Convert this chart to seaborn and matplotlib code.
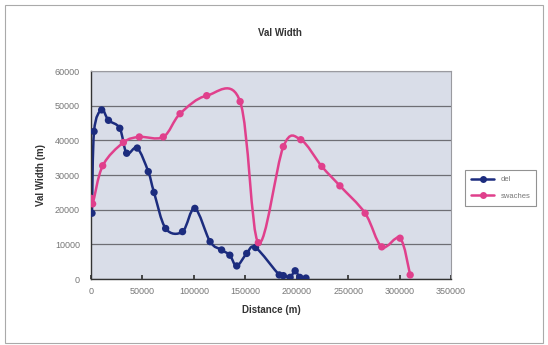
import matplotlib
matplotlib.use("Agg")
import matplotlib.pyplot as plt
import seaborn as sns
import pandas as pd
from matplotlib.path import Path
from matplotlib.patches import PathPatch, Rectangle
from matplotlib.lines import Line2D

del_dist = [1000, 3000, 10400, 17000, 28000, 34700, 45000, 55700, 61300, 72600,
            89000, 101000, 115800, 127000, 135000, 141700, 151400, 160000,
            183000, 187000, 193600, 198500, 203000, 209000]
del_width = [19000, 42600, 48800, 45800, 43500, 36300, 37800, 31000, 25000, 14600,
             13700, 20400, 10800, 8400, 6900, 3800, 7400, 9100,
             1200, 1000, 500, 2400, 500, 300]

sw_dist = [0, 1600, 11400, 31500, 47000, 70300, 86600, 112500, 145000, 162700,
           187000, 204000, 224400, 242000, 266500, 282700, 300500, 310300]
sw_width = [23300, 21700, 32700, 39400, 41000, 41000, 47700, 52900, 51200, 10500,
            38200, 40200, 32500, 26900, 19000, 9300, 11800, 1200]

series_names = ["del", "swaches"]
x_ticks = [0, 50000, 100000, 150000, 200000, 250000, 300000, 350000]
y_ticks = [0, 10000, 20000, 30000, 40000, 50000, 60000]

df = pd.concat([
    pd.DataFrame({"Distance": del_dist, "Width": del_width, "series": series_names[0]}),
    pd.DataFrame({"Distance": sw_dist, "Width": sw_width, "series": series_names[1]}),
], ignore_index=True)

sns.set_theme(style="white")
plt.rcParams['font.family'] = ['Liberation Sans', 'DejaVu Sans']

fig = plt.figure(figsize=(5.48, 3.45), dpi=100)
fig.patch.set_facecolor("white")
ax = fig.add_axes([0.166, 0.191, 0.657, 0.603])
ax.set_facecolor("#d9dde8")

palette = {"del": "#1c2c7e", "swaches": "#e0408c"}


def smooth_path(xs, ys):
    # Excel-style smoothed line: cubic Bezier segments through the data points
    pts = list(zip(xs, ys))
    n = len(pts)
    verts = [pts[0]]
    codes = [Path.MOVETO]
    for i in range(n - 1):
        p0 = pts[i - 1] if i > 0 else pts[i]
        p1 = pts[i]
        p2 = pts[i + 1]
        p3 = pts[i + 2] if i + 2 < n else pts[i + 1]
        c1 = (p1[0] + (p2[0] - p0[0]) / 6, p1[1] + (p2[1] - p0[1]) / 6)
        c2 = (p2[0] - (p3[0] - p1[0]) / 6, p2[1] - (p3[1] - p1[1]) / 6)
        verts += [c1, c2, p2]
        codes += [Path.CURVE4] * 3
    return Path(verts, codes)


for name, xs, ys in [(series_names[0], del_dist, del_width),
                     (series_names[1], sw_dist, sw_width)]:
    ax.add_patch(PathPatch(smooth_path(xs, ys), facecolor="none",
                           edgecolor=palette[name], linewidth=1.8, zorder=2))

sns.scatterplot(data=df, x="Distance", y="Width", hue="series", palette=palette,
                s=28, linewidth=0, ax=ax, legend=False, zorder=3)

ax.set_xlim(0, 350000)
ax.set_ylim(0, 60000)
ax.set_xticks(x_ticks)
ax.set_yticks(y_ticks)
ax.set_xticklabels([str(t) for t in x_ticks], fontsize=6.5, color="#777777")
ax.set_yticklabels([str(t) for t in y_ticks], fontsize=6.5, color="#777777")
ax.yaxis.grid(True, color="#6e6e74", linewidth=0.9)
ax.set_axisbelow(True)
for s in ["top", "right"]:
    ax.spines[s].set_color("#9a9aa0")
    ax.spines[s].set_linewidth(0.8)
for s in ["left", "bottom"]:
    ax.spines[s].set_color("#333333")
    ax.spines[s].set_linewidth(1.0)
ax.tick_params(axis="x", which="major", direction="in", length=3, color="#333333", pad=6, bottom=True)
ax.tick_params(axis="y", which="major", length=0, pad=8)

ax.set_xlabel("Distance (m)", fontsize=7, fontweight="bold", color="#333333", labelpad=6)
ax.set_ylabel("Val Width (m)", fontsize=7, fontweight="bold", color="#333333", labelpad=6)
fig.text(0.51, 0.905, "Val Width", ha="center", va="center", fontsize=7,
         fontweight="bold", color="#333333")

handles = [Line2D([], [], color=palette[n], marker="o", markersize=5,
                  markeredgewidth=0, linewidth=1.8) for n in series_names]
leg = fig.legend(handles, series_names, loc="center left",
                 bbox_to_anchor=(0.842, 0.455), fontsize=5.5, frameon=True,
                 fancybox=False, handlelength=3, borderpad=0.8, labelspacing=1.2)
leg.get_frame().set_edgecolor("#777777")
leg.get_frame().set_linewidth(0.8)
for t in leg.get_texts():
    t.set_color("#777777")

fig.patches.append(Rectangle((0.009, 0.006), 0.982, 0.98, transform=fig.transFigure,
                             fill=False, edgecolor="#aaaaaa", linewidth=0.8))

fig.savefig("out.png", dpi=100)
